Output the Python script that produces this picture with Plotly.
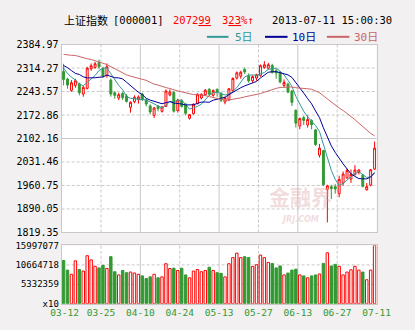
import pandas as pd
import plotly.graph_objects as go

# ---- trading sessions shown (Shanghai Composite, 2013) ----
dates = [
    "03-12", "03-13", "03-14", "03-15", "03-18", "03-19", "03-20", "03-21", "03-22", "03-25",
    "03-26", "03-27", "03-28", "03-29", "04-01", "04-02", "04-03", "04-08", "04-09", "04-10",
    "04-11", "04-12", "04-15", "04-16", "04-17", "04-18", "04-19", "04-22", "04-23", "04-24",
    "04-25", "04-26", "05-02", "05-03", "05-06", "05-07", "05-08", "05-09", "05-10", "05-13",
    "05-14", "05-15", "05-16", "05-17", "05-20", "05-21", "05-22", "05-23", "05-24", "05-27",
    "05-28", "05-29", "05-30", "05-31", "06-03", "06-04", "06-05", "06-06", "06-07", "06-13",
    "06-14", "06-17", "06-18", "06-19", "06-20", "06-21", "06-24", "06-25", "06-26", "06-27",
    "06-28", "07-01", "07-02", "07-03", "07-04", "07-05", "07-08", "07-09", "07-10", "07-11",
]

open_ = [
    2304, 2281, 2247, 2262, 2267, 2236, 2253, 2312, 2316, 2331,
    2313, 2292, 2278, 2240, 2224, 2238, 2230, 2196, 2213, 2219,
    2235, 2218, 2200, 2172, 2199, 2184, 2199, 2233, 2241, 2186,
    2216, 2206, 2163, 2177, 2207, 2224, 2234, 2250, 2232, 2250,
    2238, 2212, 2218, 2246, 2284, 2290, 2310, 2290, 2276, 2284,
    2292, 2316, 2314, 2322, 2306, 2302, 2262, 2266, 2245, 2187,
    2140, 2165, 2143, 2156, 2128, 2052, 2066, 1949, 1957, 1957,
    1936, 1968, 1984, 1980, 1994, 2000, 1992, 1948, 1962, 2010,
]
high = [
    2327, 2285, 2278, 2282, 2270, 2260, 2318, 2328, 2333, 2340,
    2318, 2328, 2283, 2244, 2240, 2242, 2236, 2214, 2232, 2232,
    2240, 2223, 2205, 2197, 2203, 2200, 2250, 2250, 2245, 2222,
    2221, 2208, 2176, 2208, 2238, 2238, 2251, 2254, 2250, 2253,
    2242, 2228, 2254, 2286, 2304, 2306, 2316, 2298, 2292, 2297,
    2325, 2335, 2330, 2327, 2312, 2305, 2280, 2270, 2248, 2190,
    2165, 2170, 2172, 2160, 2131, 2086, 2068, 1963, 1963, 1965,
    1990, 2003, 2012, 2009, 2022, 2010, 1996, 1968, 2010, 2093,
]
low = [
    2262, 2252, 2243, 2255, 2232, 2228, 2250, 2306, 2312, 2312,
    2285, 2285, 2228, 2222, 2218, 2218, 2210, 2180, 2208, 2207,
    2215, 2199, 2175, 2164, 2184, 2180, 2197, 2229, 2180, 2180,
    2195, 2172, 2159, 2174, 2205, 2220, 2231, 2230, 2228, 2228,
    2212, 2205, 2215, 2243, 2280, 2282, 2296, 2270, 2270, 2276,
    2288, 2312, 2310, 2298, 2282, 2268, 2256, 2238, 2200, 2135,
    2130, 2143, 2135, 2130, 2080, 2045, 1959, 1849.6, 1920, 1936,
    1925, 1960, 1980, 1968, 1990, 1994, 1955, 1945, 1958, 2008,
]
close = [
    2280.0, 2263.0, 2270.0, 2276.0, 2240.0, 2256.0, 2314.0, 2321.0, 2327.0, 2318.0,
    2290.0, 2318.0, 2236.0, 2232.0, 2234.0, 2225.0, 2214.0, 2211.0, 2226.0, 2227.0,
    2220.0, 2206.0, 2182.0, 2194.0, 2192.0, 2197.0, 2245.0, 2242.0, 2184.5, 2218.0,
    2199.0, 2178.0, 2174.0, 2205.5, 2235.5, 2235.3, 2247.5, 2235.6, 2246.3, 2241.9,
    2217.0, 2224.8, 2251.8, 2282.9, 2300.0, 2301.7, 2302.4, 2275.7, 2288.5, 2293.9,
    2321.4, 2324.0, 2324.3, 2300.6, 2299.3, 2272.4, 2270.9, 2242.1, 2210.9, 2148.4,
    2162.0, 2156.3, 2159.4, 2143.5, 2084.0, 2073.1, 1963.2, 1959.5, 1951.5, 1950.0,
    1979.2, 1995.2, 2006.5, 1994.3, 2007.2, 2007.2, 1958.1, 1957.2, 2008.1, 2072.99,
]
volume = [
    11870000, 9230000, 8090000, 11780000, 9410000, 8970000, 13190000, 12040000, 10280000, 9840000,
    10550000, 9670000, 12920000, 8790000, 7910000, 9140000, 8530000, 8700000, 8440000, 8090000,
    7650000, 6940000, 7380000, 8090000, 7120000, 7380000, 10990000, 9670000, 9760000, 9140000,
    9760000, 7910000, 7120000, 8970000, 9410000, 8790000, 9140000, 10020000, 9140000, 8530000,
    8350000, 7380000, 10990000, 12660000, 13890000, 12660000, 12920000, 12660000, 10200000, 10720000,
    13360000, 12660000, 11340000, 11080000, 9840000, 10370000, 7910000, 8440000, 9230000, 9490000,
    7910000, 7650000, 7120000, 7650000, 7910000, 8170000, 11080000, 13980000, 10370000, 10810000,
    10280000, 7910000, 8700000, 9320000, 10280000, 9230000, 8700000, 6590000, 9230000, 15997077,
]
# closing levels of the 29 sessions before 03-12, feeding the moving averages
prior_close = [
    2325.2, 2297.1, 2291.3, 2358.0, 2361.7, 2382.5, 2385.4, 2419.0, 2428.2, 2433.1,
    2434.5, 2418.5, 2432.4, 2443.5, 2382.9, 2397.2, 2325.7, 2314.2, 2326.1, 2293.0,
    2324.2, 2359.5, 2359.5, 2273.4, 2326.2, 2347.2, 2324.2, 2318.7, 2302.9,
]

price_ticks = [1819.35, 1890.05, 1960.75, 2031.46, 2102.16, 2172.86, 2243.57, 2314.27, 2384.97]
volume_ticks = [0, 5332359, 10664718, 15997077]
volume_tick_text = ["x10", "5332359", "10664718", "15997077"]
label_index = [0, 9, 19, 29, 39, 49, 59, 69, 79]
ma_periods = [5, 10, 30]
ma_names = ["5日", "10日", "30日"]

# ---- styling ----
W, H = 415, 330
BG = "#f2f0f0"
GRID = "#c8c8c8"
RED = "#ff0000"
GREEN = "#339933"
MA_COLORS = ["#339999", "#000099", "#cc6666"]
MONO = "DejaVu Sans Mono"
CJK = "Noto Sans CJK SC"

PX_LEFT, PX_RIGHT = 54, 390
PX_PRICE_TOP, PX_PRICE_BOTTOM = 40, 235
PX_VOL_TOP, PX_VOL_BOTTOM = 248.5, 309

def px_x(p):
    return p / W

def px_y(p):
    return 1 - p / H

n = len(close)
idx = list(range(n))
rising = [c >= o for o, c in zip(open_, close)]

all_close = pd.Series(prior_close + close)
ma_values = [all_close.rolling(p).mean().iloc[len(prior_close):].tolist() for p in ma_periods]

fig = go.Figure()

# candles
fig.add_trace(go.Candlestick(
    x=idx, open=open_, high=high, low=low, close=close,
    increasing=dict(line=dict(color=RED, width=1), fillcolor="#ffffff"),
    decreasing=dict(line=dict(color=GREEN, width=1), fillcolor=GREEN),
    whiskerwidth=0, xaxis="x", yaxis="y", showlegend=False, hoverinfo="skip",
))

# moving averages
for vals, col in zip(ma_values, MA_COLORS):
    fig.add_trace(go.Scatter(
        x=idx, y=vals, mode="lines", line=dict(color=col, width=1),
        xaxis="x", yaxis="y", showlegend=False, hoverinfo="skip",
    ))

# volume bars: hollow red on up days, solid green on down days
fig.add_trace(go.Bar(
    x=idx, y=volume, width=0.62,
    marker=dict(
        color=["#ffffff" if r else GREEN for r in rising],
        line=dict(color=[RED if r else GREEN for r in rising], width=1),
    ),
    xaxis="x2", yaxis="y2", showlegend=False, hoverinfo="skip",
))

shapes = []
solid = dict(color=GRID, width=1)
dashed = dict(color=GRID, width=1, dash="3px,2px")

# horizontal price grid: middle line solid, the rest dashed
inner = price_ticks[1:-1]
for k, v in enumerate(inner):
    shapes.append(dict(type="line", xref="x domain", yref="y", x0=0, x1=1, y0=v, y1=v,
                       line=solid if k == len(inner) // 2 else dashed, layer="below"))
for v in volume_ticks[1:-1]:
    shapes.append(dict(type="line", xref="x2 domain", yref="y2", x0=0, x1=1, y0=v, y1=v,
                       line=dashed, layer="below"))
# vertical grid every ten sessions, alternating dashed / solid
for k, i in enumerate(label_index[1:-1]):
    style = solid if k % 2 == 1 else dashed
    for xr, yr in (("x", "y domain"), ("x2", "y2 domain")):
        shapes.append(dict(type="line", xref=xr, yref=yr, x0=i + 0.5, x1=i + 0.5, y0=0, y1=1,
                           line=style, layer="below"))

# legend swatches
legend_px = [(209, 232, 237), (271, 295, 298), (337, 361, 364)]
annotations = []
for (l0, l1, tx), col, name in zip(legend_px, MA_COLORS, ma_names):
    shapes.append(dict(type="line", xref="paper", yref="paper",
                       x0=px_x(l0), x1=px_x(l1), y0=px_y(32), y1=px_y(32),
                       line=dict(color=col, width=2)))
    annotations.append(dict(text=name, x=px_x(tx), y=px_y(32.5), xref="paper", yref="paper",
                            xanchor="left", yanchor="middle", showarrow=False,
                            font=dict(family=f"{MONO}, {CJK}", size=11, color=col)))

def head(text, x, color="#000000", family=MONO, size=10.5):
    annotations.append(dict(text=text, x=px_x(x), y=px_y(15), xref="paper", yref="paper",
                            xanchor="left", yanchor="middle", showarrow=False,
                            font=dict(family=family, size=size, color=color)))

last = close[-1]
pct = (close[-1] / close[-2] - 1) * 100
last_int, last_dec = f"{last:.2f}".split(".")
pct_int, pct_dec = f"{pct:.2f}".split(".")
head("上证指数", 54, family=CJK, size=11)
head("[000001]", 107)
head(f"{last_int}<u>{last_dec}</u>", 171, color=RED)
head(f"{pct_int}<u>{pct_dec}</u>%↑", 223, color=RED)
head("2013-07-11 15:00:30", 276)

# faint site watermark
annotations.append(dict(text="<b>金融界</b>", x=px_x(344), y=px_y(197), xref="paper", yref="paper",
                        showarrow=False, borderpad=0,
                        font=dict(family=CJK, size=21, color="rgba(220,165,165,0.40)")))
annotations.append(dict(text="<b><i>JRJ.COM</i></b>", x=px_x(330), y=px_y(227), xref="paper", yref="paper",
                        showarrow=False, borderpad=0,
                        font=dict(family="DejaVu Sans", size=8, color="rgba(220,165,165,0.40)")))

x_domain = [px_x(PX_LEFT), px_x(PX_RIGHT)]
x_range = [-0.5, n - 0.5]
axis_common = dict(showgrid=False, zeroline=False, showline=True, mirror=True,
                   linecolor=GRID, linewidth=1, ticks="", fixedrange=True)

tick_pos = [i + 0.5 if i else 0.25 for i in label_index]

fig.update_layout(
    width=W, height=H, margin=dict(l=0, r=0, t=0, b=0),
    paper_bgcolor=BG, plot_bgcolor="#ffffff", showlegend=False,
    xaxis=dict(domain=x_domain, range=x_range, anchor="y", showticklabels=False,
               rangeslider=dict(visible=False), **axis_common),
    yaxis=dict(domain=[px_y(PX_PRICE_BOTTOM), px_y(PX_PRICE_TOP)], range=[price_ticks[0], price_ticks[-1]],
               anchor="x", tickvals=price_ticks, ticktext=[f"{v:.2f}" for v in price_ticks],
               tickfont=dict(family=MONO, size=10, color="#000000"), **axis_common),
    xaxis2=dict(domain=x_domain, range=x_range, anchor="y2",
                tickvals=tick_pos, ticktext=[dates[i] for i in label_index],
                tickfont=dict(family=MONO, size=9.5, color=GREEN), **axis_common),
    yaxis2=dict(domain=[px_y(PX_VOL_BOTTOM), px_y(PX_VOL_TOP)], range=[0, volume_ticks[-1]],
                anchor="x2", tickvals=volume_ticks, ticktext=volume_tick_text,
                tickfont=dict(family=MONO, size=9, color="#000000"), **axis_common),
    shapes=shapes, annotations=annotations,
)

fig.write_html("out.html", config={"displayModeBar": False})
